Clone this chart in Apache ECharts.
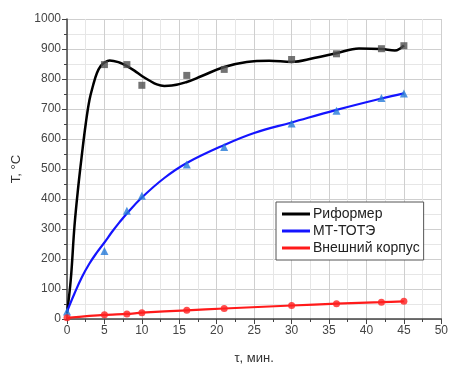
<!DOCTYPE html>
<html><head><meta charset="utf-8">
<script src="https://cdn.jsdelivr.net/npm/echarts@6/dist/echarts.min.js"></script>
<style>html,body{margin:0;padding:0;background:#fff}#c{width:451px;height:370px}</style>
</head><body><div id="c"></div>
<script>
// measured points
const timeX = [0, 5, 8, 10, 16, 21, 30, 36, 42, 45];
const reformerPts = [null, 848, 848, 779, 812, 832, 865, 884, 901, 911];
const mtPts = [25, 227, 361, 411, 515, 573, 652, 694, 737, 752];
const hullPts = [4, 14, 17, 21, 29, 35, 45, 51, 56, 59];
// fitted curves
const reformerCurveX = [0, 0.5, 1, 1.5, 2, 2.5, 3, 3.5, 4, 4.5, 5, 5.7, 7, 8, 9, 10, 11, 12, 13, 14, 16, 18, 21, 24, 27, 30, 33, 36, 39, 42, 43.8, 45];
const reformerCurveY = [20, 130, 310, 440, 550, 650, 730, 780, 820, 843, 855, 862, 855, 843, 828, 810, 795, 782, 777, 778, 790, 810, 840, 857, 861, 857, 870, 886, 902, 900, 895, 912];
const mtCurveX = [0, 1, 2, 3, 4, 5, 6, 7, 8, 10, 13, 16, 21, 25, 30, 36, 42, 45];
const mtCurveY = [25, 85, 140, 185, 222, 255, 290, 322, 352, 405, 470, 520, 580, 620, 655, 697, 735, 752];
const names = ['Риформер', 'МТ-ТОТЭ', 'Внешний корпус'];

const zip = (xs, ys) => xs.map((x, i) => [x, ys[i]]).filter(p => p[1] !== null);
const chart = echarts.init(document.getElementById('c'), null, {renderer: 'canvas'});
const font = 'Liberation Sans, Arial, sans-serif';
chart.setOption({
  animation: false,
  backgroundColor: '#fff',
  grid: {left: 67, right: 7, top: 19, bottom: 48},
  legend: {
    orient: 'vertical', left: 276, top: 202,
    data: names.map(n => ({name: n, icon: 'rect'})),
    itemWidth: 28, itemHeight: 3, itemGap: 3,
    borderColor: '#555', borderWidth: 1, borderRadius: 0,
    padding: [5, 4, 5, 6], backgroundColor: '#fff',
    textStyle: {fontFamily: font, fontSize: 14, color: '#222', padding: [0, 0, 0, -2]}
  },
  xAxis: {
    type: 'value', min: 0, max: 50, interval: 5,
    name: 'τ, мин.', nameLocation: 'middle', nameGap: 33,
    nameTextStyle: {fontFamily: font, fontSize: 13, color: '#333'},
    axisLine: {onZero: false, lineStyle: {color: '#444', width: 1.5}},
    axisTick: {show: true, length: 5, lineStyle: {color: '#444'}},
    minorTick: {show: true, splitNumber: 2, length: 3, lineStyle: {color: '#444'}},
    axisLabel: {fontFamily: font, fontSize: 12, color: '#444', margin: 6},
    splitLine: {show: true, lineStyle: {color: '#cfcfcf', width: 1}},
    minorSplitLine: {show: true, lineStyle: {color: '#e6e6e6', width: 1}}
  },
  yAxis: {
    type: 'value', min: 0, max: 1000, interval: 100,
    name: 'T, °C', nameLocation: 'middle', nameGap: 44,
    nameTextStyle: {fontFamily: font, fontSize: 13, color: '#333'},
    axisLine: {show: true, onZero: false, lineStyle: {color: '#444', width: 1.5}},
    axisTick: {show: true, length: 5, lineStyle: {color: '#444'}},
    minorTick: {show: true, splitNumber: 2, length: 3, lineStyle: {color: '#444'}},
    axisLabel: {fontFamily: font, fontSize: 12, color: '#444', margin: 6, formatter: v => String(v)},
    splitLine: {show: true, lineStyle: {color: '#cfcfcf', width: 1}},
    minorSplitLine: {show: true, lineStyle: {color: '#e6e6e6', width: 1}}
  },
  series: [
    {name: names[0], type: 'line', data: zip(reformerCurveX, reformerCurveY), smooth: 0.4, showSymbol: false,
     lineStyle: {color: '#000', width: 2.5}, itemStyle: {color: '#000'}, z: 3},
    {name: names[1], type: 'line', data: zip(mtCurveX, mtCurveY), smooth: 0.4, showSymbol: false,
     lineStyle: {color: '#1414ff', width: 2.2}, itemStyle: {color: '#1414ff'}, z: 3},
    {name: names[2], type: 'line', data: zip(timeX, hullPts), smooth: 0.3, showSymbol: false,
     lineStyle: {color: '#ff1a1a', width: 2.2}, itemStyle: {color: '#ff1a1a'}, z: 3},
    {type: 'scatter', data: zip(timeX, reformerPts), symbol: 'rect', symbolSize: 7,
     itemStyle: {color: '#505050'}, z: 4},
    {type: 'scatter', data: zip(timeX, mtPts), symbol: 'triangle', symbolSize: 8,
     itemStyle: {color: '#2479d8'}, z: 4},
    {type: 'scatter', data: zip(timeX, hullPts), symbol: 'circle', symbolSize: 7,
     itemStyle: {color: '#ff2020'}, z: 4}
  ]
});
</script></body></html>
